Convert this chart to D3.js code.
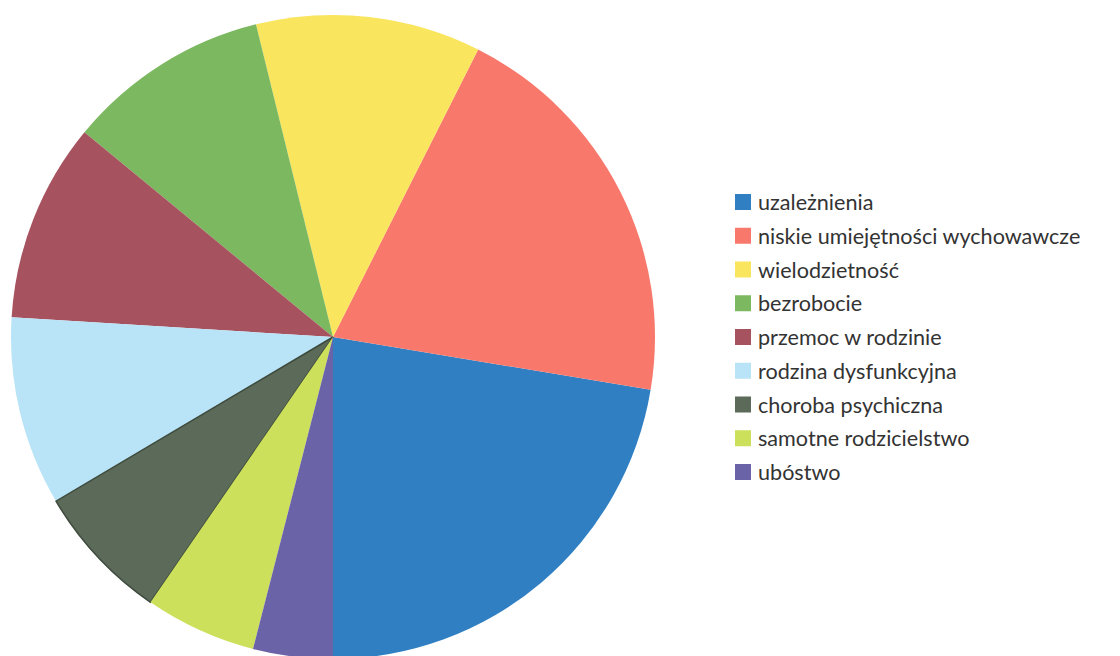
<!DOCTYPE html>
<html><head><meta charset="utf-8">
<script src="https://cdn.jsdelivr.net/npm/d3@7"></script>
<style>body{margin:0;background:#fff}svg{display:block}</style>
</head><body>
<svg id="chart" width="1120" height="656"></svg>
<script>
const categories = ["uzależnienia","niskie umiejętności wychowawcze","wielodzietność","bezrobocie","przemoc w rodzinie","rodzina dysfunkcyjna","choroba psychiczna","samotne rodzicielstwo","ubóstwo"];
const values = [22.4, 20.2, 11.3, 10.2, 10.0, 9.5, 6.9, 5.6, 4.0];
const colors = ["#2f7fc2","#f8796c","#f9e55e","#7cb860","#a6525f","#b9e3f6","#5b6a59","#cde05b","#6b63a8"];

const svg = d3.select("#chart");
const cx = 333, cy = 337, r = 322;
const pie = d3.pie().sort(null).value(d => d).startAngle(Math.PI).endAngle(-Math.PI);
const arc = d3.arc().innerRadius(0).outerRadius(r);
const g = svg.append("g").attr("transform", `translate(${cx},${cy})`);
g.selectAll("path").data(pie(values)).join("path")
  .attr("d", arc)
  .attr("fill", (d,i) => colors[i])
  .attr("stroke", (d,i) => i === 6 ? "#3d4a3c" : "none")
  .attr("stroke-width", 1.5);

const color = d3.scaleOrdinal().domain(categories).range(colors);
const y = d3.scalePoint().domain(categories).range([202, 472]);
const leg = svg.append("g");
const items = leg.selectAll("g").data(categories).join("g")
  .attr("transform", d => `translate(735,${y(d)})`);
items.append("rect").attr("x",0).attr("y",-8).attr("width",16).attr("height",16).attr("fill", d => color(d));
items.append("text").attr("x",23).attr("y",8)
  .attr("font-family","Lato, sans-serif").attr("font-size",21.6).attr("fill","#333")
  .text(d => d);
</script>
</body></html>
